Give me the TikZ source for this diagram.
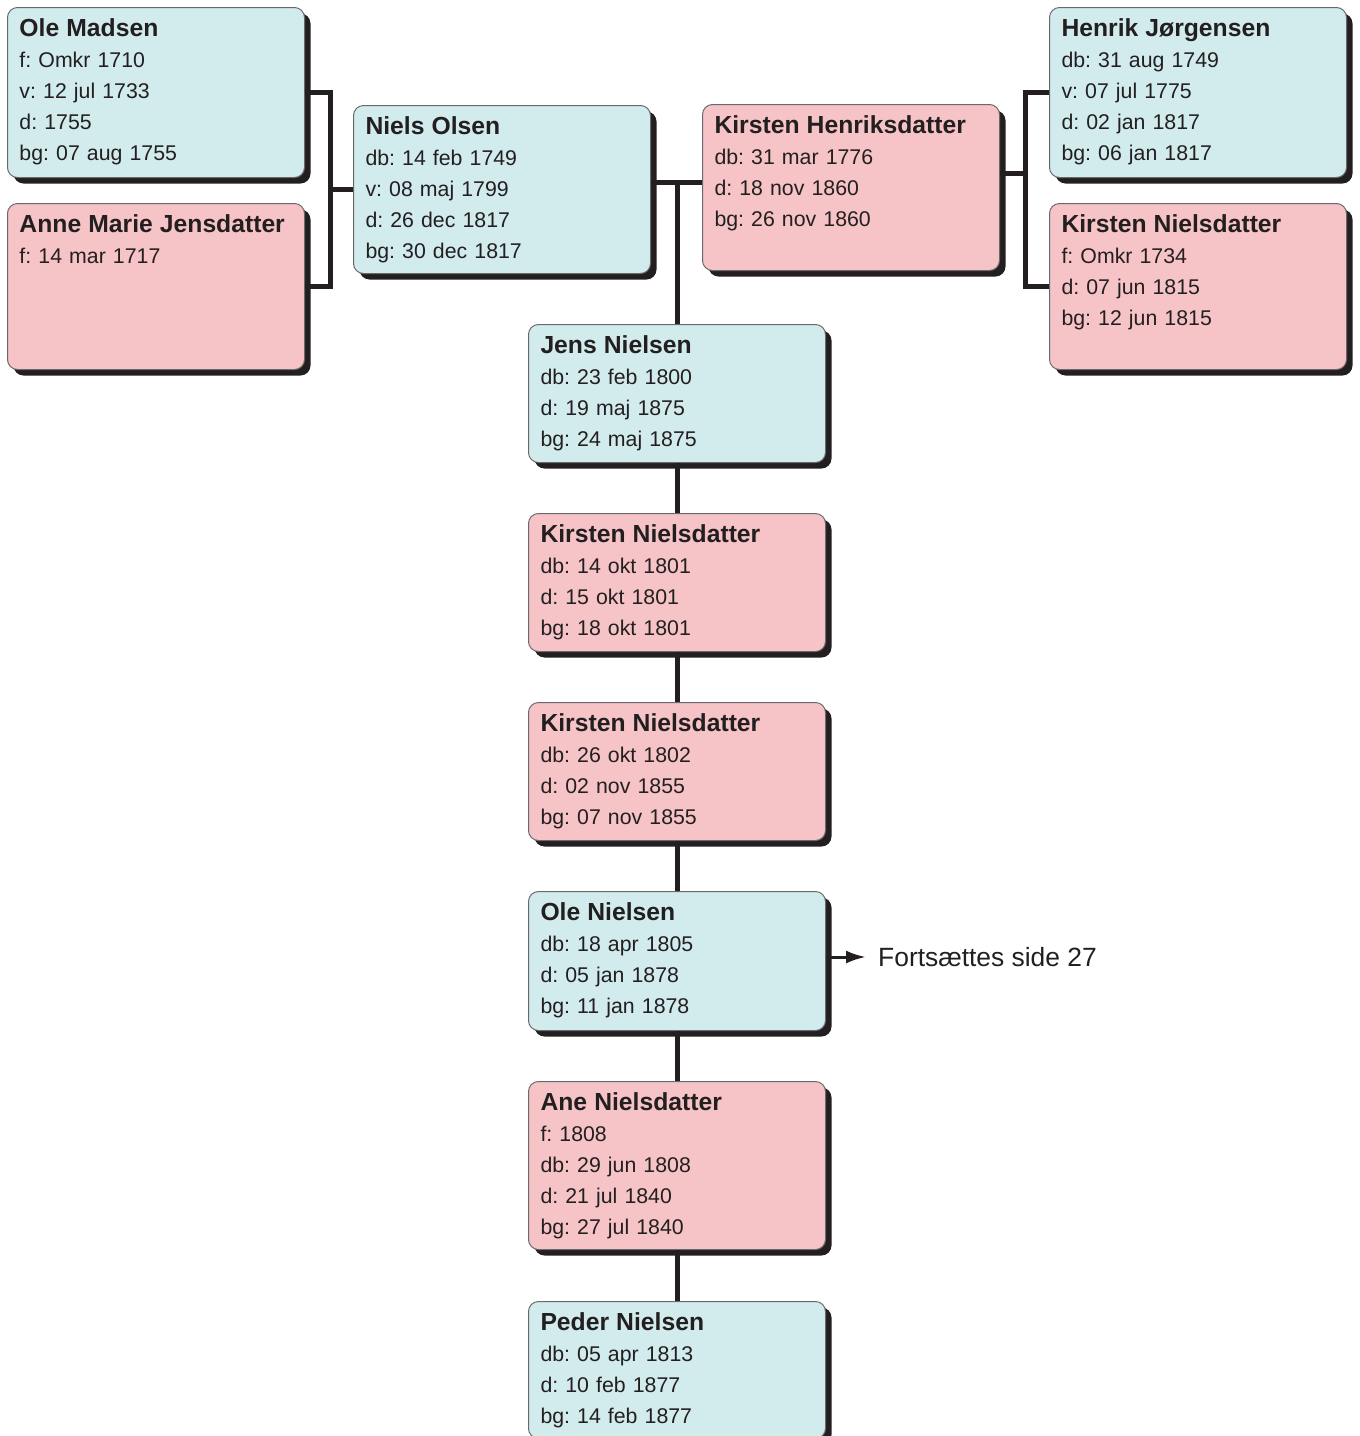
\documentclass[tikz,border=0pt]{standalone}
\usepackage{fontspec}
\setmainfont{Liberation Sans}
\usepackage{tikz}
\usetikzlibrary{positioning, calc, shadows, arrows.meta}
\frenchspacing

\definecolor{azul}{RGB}{210,235,237}
\definecolor{rosa}{RGB}{246,196,199}
\definecolor{escuro}{RGB}{35,31,32}
\definecolor{borda}{RGB}{105,105,108}

\newcommand{\nome}[1]{{\bfseries\fontsize{24.7pt}{31pt}\selectfont #1}}

\begin{document}
\begin{tikzpicture}[x=1pt, y=-1pt, >={Latex[length=20pt,width=13pt]}, node distance=50pt,
					pessoa/.style={draw=borda, line width=1pt, rounded corners=10pt, anchor=north west,
						inner xsep=12pt, inner ysep=0pt, text width=273pt, align=left, text height=29pt,
						text=escuro, font=\fontsize{21.3pt}{31pt}\selectfont,
						drop shadow={shadow xshift=6pt, shadow yshift=-6pt, fill=escuro, opacity=1}},
					homem/.style={pessoa, fill=azul}, mulher/.style={pessoa, fill=rosa},
					linha/.style={draw=escuro, line width=5pt} ]
					\useasboundingbox (0,0) rectangle (1360,1436);
					
					%Avós:
					\node[homem, text depth=141pt]  (OleM)   at (7,7)       {\nome{Ole Madsen}\\ f: Omkr 1710\\ v: 12 jul 1733\\ d: 1755\\ bg: 07 aug 1755};
					\node[mulher, text depth=137pt, below=25pt of OleM] (AnneM) {\nome{Anne Marie Jensdatter}\\ f: 14 mar 1717};
					\node[homem, text depth=141pt]  (HenrikJ) at (1049,7)   {\nome{Henrik Jørgensen}\\ db: 31 aug 1749\\ v: 07 jul 1775\\ d: 02 jan 1817\\ bg: 06 jan 1817};
					\node[mulher, text depth=137pt, below=25pt of HenrikJ] (KirstenN) {\nome{Kirsten Nielsdatter}\\ f: Omkr 1734\\ d: 07 jun 1815\\ bg: 12 jun 1815};
					
					%Pais:
					\node[homem, text depth=139pt]  (NielsO) at (353,105)   {\nome{Niels Olsen}\\ db: 14 feb 1749\\ v: 08 maj 1799\\ d: 26 dec 1817\\ bg: 30 dec 1817};
					\node[mulher, text depth=137pt] (KirstenH) at (702,104) {\nome{Kirsten Henriksdatter}\\ db: 31 mar 1776\\ d: 18 nov 1860\\ bg: 26 nov 1860};
					
					%Filhos:
					\node[homem, text depth=109pt]  (JensN) at (528,324)    {\nome{Jens Nielsen}\\ db: 23 feb 1800\\ d: 19 maj 1875\\ bg: 24 maj 1875};
					\node[mulher, text depth=109pt, below=of JensN]     (KirstenA) {\nome{Kirsten Nielsdatter}\\ db: 14 okt 1801\\ d: 15 okt 1801\\ bg: 18 okt 1801};
					\node[mulher, text depth=109pt, below=of KirstenA]  (KirstenB) {\nome{Kirsten Nielsdatter}\\ db: 26 okt 1802\\ d: 02 nov 1855\\ bg: 07 nov 1855};
					\node[homem, text depth=110pt, below=of KirstenB]   (OleN)     {\nome{Ole Nielsen}\\ db: 18 apr 1805\\ d: 05 jan 1878\\ bg: 11 jan 1878};
					\node[mulher, text depth=139pt, below=of OleN]      (AneN)     {\nome{Ane Nielsdatter}\\ f: 1808\\ db: 29 jun 1808\\ d: 21 jul 1840\\ bg: 27 jul 1840};
					\node[homem, text depth=108pt, below=51pt of AneN]  (PederN)   {\nome{Peder Nielsen}\\ db: 05 apr 1813\\ d: 10 feb 1877\\ bg: 14 feb 1877};
					
					\node[inner sep=0pt, anchor=west, text=escuro, font=\fontsize{26.4pt}{31pt}\selectfont] (segue) at (878,957) {Fortsættes side 27};
					
					%Ligações:
					\coordinate (uniaoE) at (330,189);
					\coordinate (uniaoD) at (1025,173);
					\coordinate (uniaoM) at (677,182);
					\draw[linha] (OleM.east) -| (uniaoE) |- (AnneM.east);
					\draw[linha] (uniaoE) -- (uniaoE -| NielsO.west);
					\draw[linha] (HenrikJ.west) -| (uniaoD) |- (KirstenN.west);
					\draw[linha] (uniaoD) -- (uniaoD -| KirstenH.east);
					\draw[linha] (uniaoM -| NielsO.east) -- (uniaoM -| KirstenH.west);
					\draw[linha] (uniaoM) -- (JensN.north);
					\foreach \a/\b in {JensN/KirstenA, KirstenA/KirstenB, KirstenB/OleN, OleN/AneN, AneN/PederN}
						\draw[linha] (\a) -- (\b);
					\draw[->, draw=escuro, fill=escuro, line width=3pt] (OleN.east |- segue.west) -- ([xshift=-12pt]segue.west);
				\end{tikzpicture}
\end{document}
